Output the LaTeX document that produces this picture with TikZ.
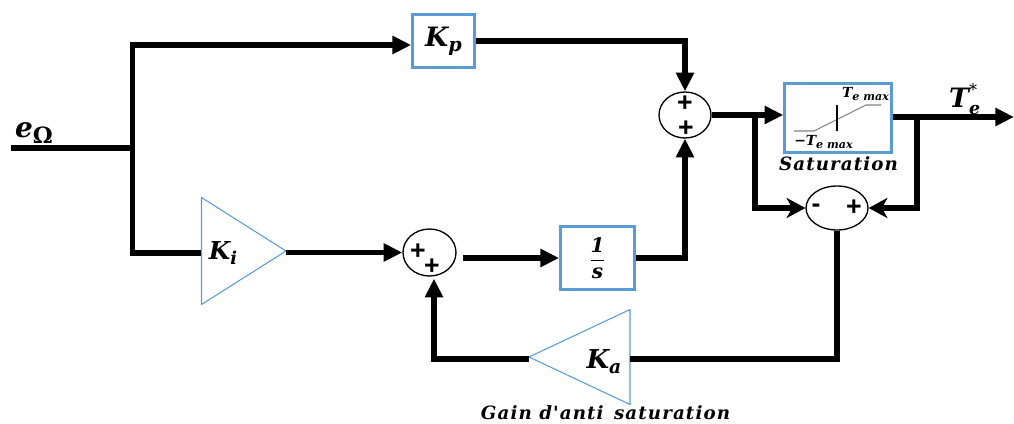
\documentclass[tikz,border=0pt]{standalone}
\usepackage{amsmath}
\usepackage{fontspec}
\usepackage{tikz}
\usetikzlibrary{arrows.meta,positioning,shapes.geometric}
\setmainfont{DejaVu Serif}
\newfontfamily\signfont{Liberation Sans}
\newfontfamily\captfont[LetterSpace=6]{DejaVu Serif}
\definecolor{blockblue}{HTML}{5B9BD5}
\newcommand{\gainname}[2]{\textbf{\textit{#1}}\raisebox{-0.35ex}{\scalebox{0.72}{\textbf{\textit{#2}}}}}

\begin{document}
\begin{tikzpicture}[x=0.75pt,y=-0.75pt,font=\bfseries\itshape,
block/.style={draw=blockblue,line width=2.1pt,minimum width=#1,inner sep=0pt},
gain/.style={draw=blockblue,line width=0.8pt,isosceles triangle,isosceles triangle stretches,inner sep=0pt,outer sep=0pt},
sumnode/.style={draw,ellipse,line width=1pt,inner sep=0pt},
sign/.style={font=\signfont\bfseries\fontsize{20}{20}\selectfont,inner sep=0pt},
wire/.style={line width=4.4pt},
arr/.style={wire,-{Triangle[length=14pt,width=13pt]}},
arrb/.style={wire,-{Stealth[length=14pt,width=15pt,inset=4pt]}}]
\useasboundingbox (0,0) rectangle (1014,424);
% blocks
\node[block=46.5pt,minimum height=39.5pt] (kp) at (443.5,41) {\fontsize{20}{20}\selectfont\gainname{K}{p}};
\node[block=80pt,minimum height=51.5pt] (sat) at (838,118) {};
\node[block=55.5pt,minimum height=47pt] (integ) at (597.5,258) {\fontsize{15}{15}\selectfont$\dfrac{\hbox{\bfseries\itshape 1}}{\hbox{\bfseries\itshape s}}$};
\node[gain,minimum width=80.25pt,minimum height=63.4pt,anchor=apex] (ki) at (286,251) {};
\node[gain,minimum width=71.25pt,minimum height=75.75pt,shape border rotate=180,anchor=apex] (ka) at (529,357) {};
\node (kilabel) at (223,253) {\fontsize{18.5}{18.5}\selectfont\gainname{K}{i}};
\node (kalabel) at (604,362) {\fontsize{19.5}{19.5}\selectfont\gainname{K}{a}};
% summing points
\node[sumnode,minimum width=39pt,minimum height=34.5pt] (sumtop) at (685,115) {};
\node[sumnode,minimum width=39.75pt,minimum height=35.25pt] (sumint) at (429.5,252.5) {};
\node[sumnode,minimum width=46.5pt,minimum height=33pt] (sumsat) at (837,208) {};
\node[sign] (p1) at (685,104) {+};
\node[sign] (p2) at (686,129) {+};
\node[sign] (p3) at (418,252) {+};
\node[sign] (p4) at (432,267) {+};
\node[sign] (m1) at (816,208) {-};
\node[sign] (p5) at (854,208) {+};
% texts
\node (input) at (34,133) {\fontsize{21}{21}\selectfont\textbf{\textit{e}}\raisebox{-0.4ex}{\scalebox{0.8}{\upshape\textbf{Ω}}}};
\node[inner sep=0pt] (output) at (965,99) {\fontsize{20}{20}\selectfont$\hbox{\bfseries\itshape T}^{\hbox{\scalebox{0.6}{\upshape\mdseries *}}}_{\hbox{\scalebox{0.65}{\bfseries\itshape e}}}$};
\node[font=\captfont\bfseries\itshape\fontsize{13.7}{13.7}\selectfont] (satname) at (838.5,164) {Saturation};
\node[font=\captfont\bfseries\itshape\fontsize{13.7}{13.7}\selectfont,inner sep=0pt] (kaname) at (605.5,413) {Gain d'anti\, saturation};
\node[font=\bfseries\itshape\fontsize{10.4}{10.4}\selectfont] (satmax) at (865.5,94) {T\raisebox{-0.3ex}{\scalebox{0.8}{e max}}};
\node[font=\bfseries\itshape\fontsize{10.4}{10.4}\selectfont] (satmin) at (823.5,142) {\upshape−\itshape T\raisebox{-0.3ex}{\scalebox{0.8}{e max}}};
% saturation curve
\draw[gray,line width=0.8pt] (794,131)--(814,131)--(866,105)--(881,105);
\draw[line width=0.9pt] (837,105)--(837,131);
% free ends and bends
\coordinate (in) at (11,148);
\coordinate (fork) at (132.5,148);
\coordinate (out) at (1014,117);
\coordinate (tapin) at (755,115);
\coordinate (tapout) at (917,117);
% connectors
\draw[wire](in)--(fork);
\draw[arr](fork)|-(kp.west |- 0,45);
\draw[wire](fork)|-(ki.west |- 0,253);
\draw[arr](ki.apex |- sumint.west)--(sumint.west);
\draw[arr,shorten <=5pt](sumint.east |- integ.west)--(integ.west);
\draw[arr](integ.east)-|(sumtop.south);
\draw[arr](kp.east |- 0,41)-|(sumtop.north);
\draw[arr](sumtop.east)--(sat.west |- sumtop.east);
\draw[arr](sat.east |- out)--(out);
\draw[arrb](tapin)|-(sumsat.west);
\draw[arrb](tapout)|-(sumsat.east);
\draw[wire](sumsat.south)|-(ka.east |- 0,359);
\draw[arr,shorten >=1.5pt](ka.apex |- 0,359)-|(sumint.south -| 434,0);
\end{tikzpicture}
\end{document}
